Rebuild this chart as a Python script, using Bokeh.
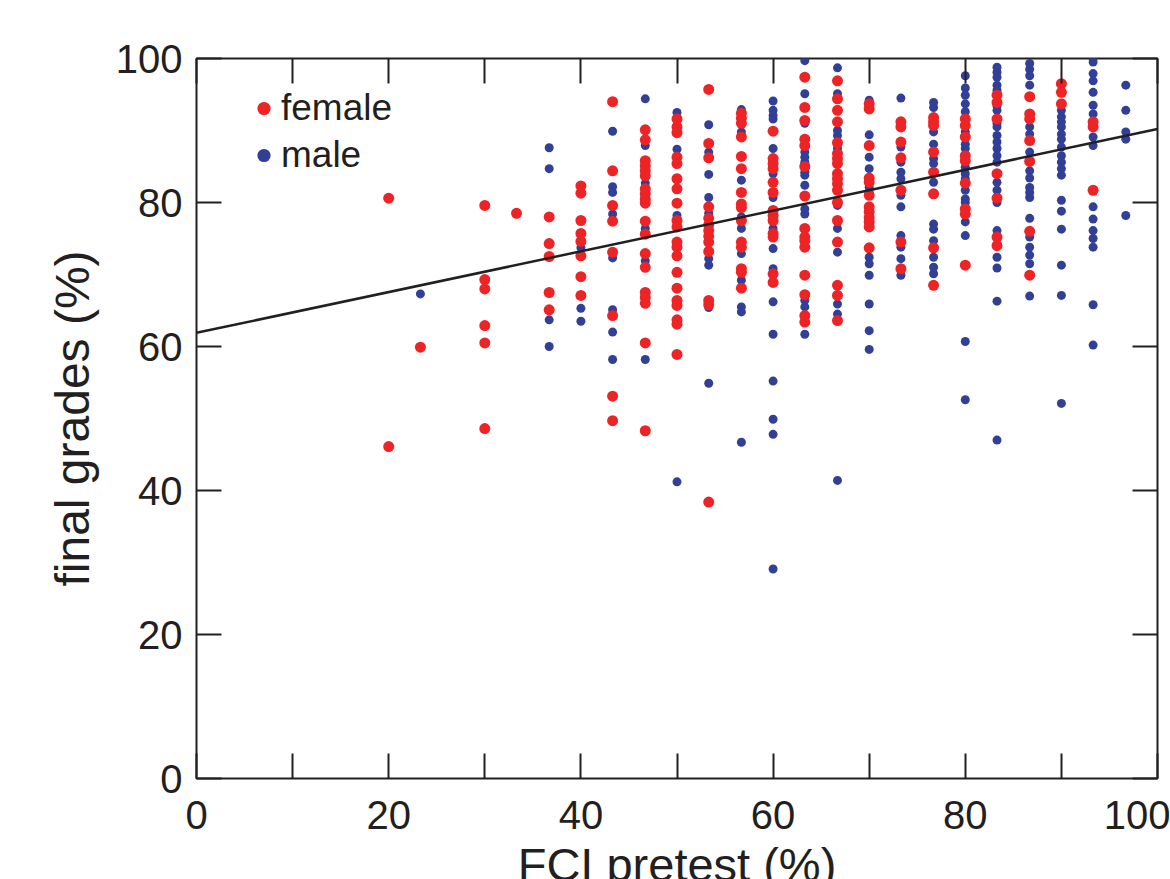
from bokeh.plotting import figure
from bokeh.models import Range1d, FixedTicker, LinearAxis, Legend, LegendItem, Label
from bokeh.embed import file_html
from bokeh.resources import INLINE

# FCI pretest levels (%)
pretest_levels = [20.0, 23.3, 30.0, 33.3, 36.7, 40.0, 43.3, 46.7, 50.0, 53.3, 56.7, 60.0,
                  63.3, 66.7, 70.0, 73.3, 76.7, 80.0, 83.3, 86.7, 90.0, 93.3, 96.7]

# final grades (%) of female students at each pretest level
female_grades = [
    [80.6, 46.1],
    [59.9],
    [79.6, 69.3, 68.0, 62.9, 60.5, 48.6],
    [78.5],
    [78.0, 74.3, 72.5, 67.5, 65.1],
    [82.3, 81.3, 77.5, 75.7, 74.6, 72.6, 69.7, 67.1],
    [94.0, 84.4, 79.6, 77.4, 73.1, 64.3, 53.1, 49.7],
    [90.1, 88.7, 85.8, 85.1, 84.4, 83.7, 81.9, 81.2, 80.5, 79.9, 77.4, 75.6, 72.9, 71.0,
     67.5, 66.8, 66.0, 60.5, 48.3],
    [91.6, 90.5, 89.7, 86.3, 85.4, 83.3, 81.9, 79.9, 77.5, 76.6, 74.5, 73.8, 72.6, 70.3,
     68.1, 66.4, 65.7, 63.7, 63.1, 58.9],
    [95.7, 88.2, 86.2, 79.4, 77.8, 76.9, 76.1, 75.3, 74.5, 73.2, 66.4, 65.8, 38.4],
    [92.4, 91.7, 91.0, 89.1, 86.4, 84.7, 81.4, 79.8, 79.3, 77.5, 74.5, 73.8, 70.8, 70.3, 68.1],
    [89.9, 86.1, 85.4, 84.7, 82.8, 81.4, 78.9, 78.2, 77.5, 75.7, 75.2, 70.1, 68.9],
    [97.4, 93.2, 91.4, 88.8, 87.9, 85.0, 80.9, 76.4, 75.2, 74.7, 73.8, 69.9, 67.2, 64.3, 63.4],
    [96.9, 94.4, 92.8, 91.2, 88.3, 86.8, 86.1, 85.4, 84.0, 83.3, 82.6, 81.7, 80.0, 77.5,
     74.5, 68.5, 67.1, 63.6],
    [93.7, 93.0, 87.9, 83.4, 82.8, 81.0, 79.4, 78.7, 77.9, 77.3, 76.6, 73.7],
    [91.2, 90.5, 88.4, 86.2, 81.7, 74.5, 70.8],
    [91.8, 91.2, 90.7, 87.0, 84.2, 81.2, 73.7, 68.5],
    [91.6, 90.7, 89.1, 86.5, 85.8, 82.7, 79.1, 78.4, 71.3],
    [94.9, 93.9, 91.6, 84.0, 80.6, 75.2, 74.0],
    [94.7, 92.3, 91.6, 88.6, 85.7, 76.0, 69.9],
    [96.5, 95.3, 93.7],
    [91.2, 90.5, 81.7],
    [],
]

# final grades (%) of male students at each pretest level
male_grades = [
    [],
    [67.3],
    [],
    [],
    [87.6, 84.7, 63.7, 60.0],
    [73.7, 65.3, 63.5],
    [89.9, 82.2, 81.4, 78.4, 72.3, 65.1, 62.0, 58.2],
    [94.4, 87.9, 82.7, 76.4, 71.9, 58.2],
    [92.5, 87.4, 78.2, 41.2],
    [90.8, 87.0, 83.9, 80.7, 78.5, 72.2, 71.3, 65.4, 54.9],
    [92.9, 89.8, 83.1, 78.0, 76.4, 72.9, 69.2, 65.5, 64.8, 46.7],
    [94.1, 92.8, 92.1, 91.6, 87.5, 84.0, 80.7, 76.4, 73.6, 70.8, 66.2, 61.7, 55.2, 49.9,
     47.8, 29.1],
    [99.7, 95.1, 91.0, 87.0, 86.3, 85.6, 84.2, 83.8, 82.4, 79.1, 78.4, 66.4, 65.5, 61.7],
    [98.7, 95.1, 90.0, 89.3, 87.5, 79.6, 76.4, 73.1, 65.9, 64.5, 41.4],
    [94.2, 89.4, 86.3, 84.7, 82.1, 81.4, 72.4, 71.5, 69.9, 65.9, 62.2, 59.6],
    [94.5, 87.7, 85.6, 84.2, 83.3, 81.0, 79.4, 75.4, 73.8, 72.2, 69.9],
    [93.9, 93.2, 89.8, 88.1, 86.1, 85.4, 82.8, 77.0, 76.3, 74.7, 72.4, 71.0, 70.1],
    [97.6, 95.9, 94.9, 93.7, 92.6, 89.8, 88.1, 87.5, 84.9, 84.0, 83.3, 81.7, 80.5, 80.0,
     77.3, 75.4, 60.7, 52.6],
    [98.8, 98.1, 97.4, 96.3, 95.6, 93.4, 92.8, 91.0, 90.5, 89.3, 88.4, 87.5, 86.5, 85.6,
     82.8, 81.7, 80.0, 76.1, 72.4, 70.9, 66.3, 47.0],
    [99.3, 98.5, 97.6, 96.3, 90.5, 89.5, 87.0, 84.4, 83.4, 82.1, 81.4, 80.7, 77.8, 75.2,
     73.8, 72.7, 71.5, 67.0],
    [92.8, 91.9, 91.2, 90.5, 89.5, 88.8, 87.7, 86.5, 85.6, 84.7, 83.8, 80.3, 78.8, 76.3,
     71.3, 67.1, 52.1],
    [100.0, 99.5, 97.9, 96.9, 95.3, 93.5, 92.3, 89.1, 87.9, 79.4, 77.7, 76.1, 75.0, 73.8,
     65.8, 60.2],
    [96.3, 92.8, 89.8, 88.8, 78.2],
]

# regression line end points
fit_x = [0.0, 100.0]
fit_y = [61.9, 90.2]

x_major_ticks = [0, 20, 40, 60, 80, 100]
x_minor_ticks = [10, 30, 50, 70, 90]
y_major_ticks = [0, 20, 40, 60, 80, 100]

female_x = [lv for lv, g in zip(pretest_levels, female_grades) for _ in g]
female_y = [v for g in female_grades for v in g]
male_x = [lv for lv, g in zip(pretest_levels, male_grades) for _ in g]
male_y = [v for g in male_grades for v in g]

RED = "#EE2326"
BLUE = "#323F97"
INK = "#231F20"
FONT = "Liberation Sans"

p = figure(width=1170, height=879, output_backend="svg", toolbar_location=None,
           x_range=Range1d(0, 100), y_range=Range1d(0, 100),
           x_axis_location=None, y_axis_location=None)
p.min_border_left = 196
p.min_border_right = 13
p.min_border_top = 58
p.min_border_bottom = 101
p.xgrid.visible = False
p.ygrid.visible = False
p.outline_line_color = INK
p.outline_line_width = 2
p.background_fill_color = "white"
p.border_fill_color = "white"

xt = FixedTicker(ticks=x_major_ticks, minor_ticks=x_minor_ticks)
yt = FixedTicker(ticks=y_major_ticks, minor_ticks=[])


def style_axis(ax, labels, minor, ticks):
    ax.axis_line_color = None
    ax.major_tick_in = 25
    ax.major_tick_out = 0
    ax.major_tick_line_color = INK
    ax.major_tick_line_width = 2
    if minor:
        ax.minor_tick_in = 25
        ax.minor_tick_out = 0
        ax.minor_tick_line_color = INK
        ax.minor_tick_line_width = 2
    else:
        ax.minor_tick_line_color = None
    if labels:
        ax.major_label_text_font = FONT
        ax.major_label_text_font_size = "40px"
        ax.major_label_text_color = INK
    else:
        ax.major_label_overrides = {t: "" for t in ticks}
        ax.major_label_text_font_size = "1px"
        ax.major_label_standoff = 0


bottom = LinearAxis(ticker=xt)
style_axis(bottom, True, True, x_major_ticks)
bottom.major_label_standoff = 22
p.add_layout(bottom, "below")

top = LinearAxis(ticker=xt)
style_axis(top, False, True, x_major_ticks)
p.add_layout(top, "above")

left = LinearAxis(ticker=yt, axis_label="final grades (%)")
style_axis(left, True, False, y_major_ticks)
left.major_label_standoff = 14
left.axis_label_text_font = FONT
left.axis_label_text_font_size = "48px"
left.axis_label_text_font_style = "normal"
left.axis_label_text_color = INK
left.axis_label_standoff = 14
p.add_layout(left, "left")

right = LinearAxis(ticker=yt)
style_axis(right, False, False, y_major_ticks)
p.add_layout(right, "right")

r_male = p.scatter(male_x, male_y, size=9, fill_color=BLUE, line_color=None)
r_female = p.scatter(female_x, female_y, size=11, fill_color=RED, line_color=None)
p.line(fit_x, fit_y, line_color=INK, line_width=2.5)

legend = Legend(items=[LegendItem(label="female", renderers=[r_female]),
                       LegendItem(label="male", renderers=[r_male])],
                location=(51, 602), orientation="vertical",
                glyph_width=33, glyph_height=42, label_height=42, spacing=5,
                label_standoff=1, padding=0, margin=0,
                border_line_color=None, background_fill_alpha=0,
                label_text_font=FONT, label_text_font_size="37px",
                label_text_color=INK)
p.add_layout(legend, "center")

# x-axis title, hosted in the top side panel (which has spare room) so that it
# is not clipped to the frame and does not shrink the frame
xlabel = Label(x=50, y=0, x_units="data", y_units="data", y_offset=-86,
               text="FCI pretest (%)", text_align="center", text_baseline="alphabetic",
               text_font=FONT, text_font_size="47px", text_color=INK)
p.add_layout(xlabel, "above")

open("out.html", "w").write(file_html(p, INLINE))
